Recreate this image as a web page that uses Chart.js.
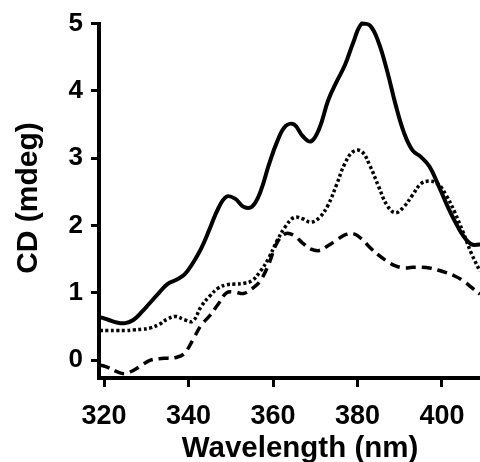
<!DOCTYPE html>
<html>
<head>
<meta charset="utf-8">
<script src="https://cdn.jsdelivr.net/npm/chart.js@4.4.1/dist/chart.umd.min.js"></script>
<style>
  html, body { margin: 0; padding: 0; background: #fff; }
  #wrap { width: 480px; height: 462px; }
</style>
</head>
<body>
<div id="wrap"><canvas id="c" width="480" height="462"></canvas></div>
<script>
// Wavelength sample points (nm)
const wavelengths = [319,321,323,325,327,329,331,333,335,337,339,341,343,345,347,349,351,353,355,357,359,361,363,365,367,369,371,373,375,377,379,381,383,385,387,389,391,393,395,397,399,401,403,405,407,409];

// CD (mdeg) — solid curve
const solidCD = [0.64,0.60,0.56,0.55,0.60,0.72,0.86,1.00,1.13,1.19,1.27,1.44,1.66,1.95,2.25,2.43,2.40,2.28,2.28,2.50,2.90,3.25,3.48,3.50,3.33,3.25,3.45,3.85,4.13,4.38,4.72,5.00,4.97,4.72,4.30,3.80,3.38,3.12,3.02,2.88,2.62,2.33,2.07,1.85,1.72,1.72];

// CD (mdeg) — dotted curve
const dottedCD = [0.44,0.44,0.44,0.44,0.45,0.46,0.48,0.53,0.61,0.65,0.60,0.58,0.80,0.95,1.07,1.12,1.13,1.14,1.18,1.32,1.52,1.78,1.99,2.12,2.10,2.05,2.12,2.30,2.60,2.92,3.10,3.10,2.88,2.58,2.30,2.19,2.28,2.45,2.62,2.66,2.62,2.45,2.20,1.90,1.58,1.32];

// CD (mdeg) — dashed curve
const dashedCD = [-0.07,-0.11,-0.17,-0.20,-0.15,-0.07,0.00,0.02,0.03,0.04,0.10,0.30,0.52,0.66,0.83,1.00,1.01,0.99,1.06,1.18,1.43,1.75,1.88,1.85,1.74,1.65,1.63,1.70,1.78,1.86,1.88,1.80,1.67,1.56,1.47,1.40,1.37,1.38,1.38,1.37,1.34,1.30,1.25,1.18,1.08,0.98];

// Tick labels
const xTicks = [320, 340, 360, 380, 400];
const yTicks = [0, 1, 2, 3, 4, 5];

const xTitle = 'Wavelength (nm)';
const yTitle = 'CD (mdeg)';

const toPts = arr => arr.map((v, i) => ({ x: wavelengths[i], y: v }));

const FONT = "'Liberation Sans', Arial, Helvetica, sans-serif";

// Draws the two axis titles (real text via canvas fillText)
const axisTitles = {
  id: 'axisTitles',
  afterDraw(chart) {
    const ctx = chart.ctx;
    ctx.save();
    ctx.fillStyle = '#000';
    ctx.textAlign = 'center';
    ctx.textBaseline = 'alphabetic';
    ctx.font = 'bold 29.5px ' + FONT;
    ctx.fillText(xTitle, 300, 457);
    ctx.translate(37, 198);
    ctx.rotate(-Math.PI / 2);
    ctx.font = 'bold 30px ' + FONT;
    ctx.fillText(yTitle, 0, 0);
    ctx.restore();
  }
};

const lineBase = { borderColor: '#000', pointRadius: 0, tension: 0.4, clip: false, fill: false };

new Chart(document.getElementById('c'), {
  type: 'line',
  data: {
    datasets: [
      Object.assign({ label: 'solid', data: toPts(solidCD), borderWidth: 4 }, lineBase),
      Object.assign({ label: 'dotted', data: toPts(dottedCD), borderWidth: 3.5, borderDash: [3, 2.5] }, lineBase),
      Object.assign({ label: 'dashed', data: toPts(dashedCD), borderWidth: 3.5, borderDash: [10, 6] }, lineBase)
    ]
  },
  plugins: [axisTitles],
  options: {
    responsive: false,
    animation: false,
    events: [],
    layout: { padding: { top: 20, right: 0, left: 0, bottom: 0 } },
    plugins: { legend: { display: false }, tooltip: { enabled: false } },
    scales: {
      x: {
        type: 'linear',
        min: 318.8,
        max: 409,
        afterBuildTicks: s => { s.ticks = xTicks.map(v => ({ value: v })); },
        afterFit: s => { s.height = 84; },
        border: { display: true, width: 4, color: '#000' },
        grid: { drawOnChartArea: false, drawTicks: true, tickLength: 9, tickWidth: 3, tickColor: '#000', color: '#000' },
        ticks: { color: '#000', padding: 13, maxRotation: 0, autoSkip: false, font: { family: FONT, size: 27, weight: 'bold' } },
        title: { display: false }
      },
      y: {
        type: 'linear',
        min: -0.265,
        max: 5,
        afterBuildTicks: s => { s.ticks = yTicks.map(v => ({ value: v })); },
        afterFit: s => { s.width = 99; },
        border: { display: true, width: 4, color: '#000' },
        grid: { drawOnChartArea: false, drawTicks: true, tickLength: 8, tickWidth: 3, tickColor: '#000', color: '#000' },
        ticks: { color: '#000', padding: 8, autoSkip: false, font: { family: FONT, size: 26, weight: 'bold' } },
        title: { display: false }
      }
    }
  }
});
</script>
</body>
</html>
